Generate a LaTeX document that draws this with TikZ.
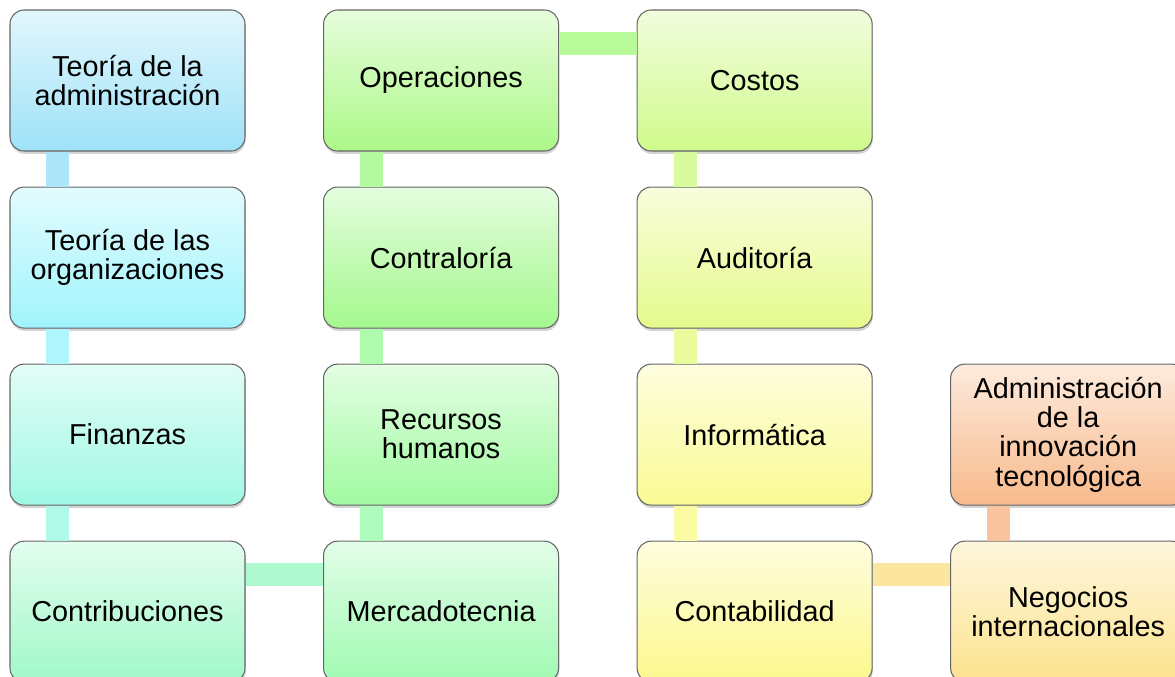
\documentclass[tikz,border=0pt]{standalone}
\usepackage{fontspec}
\setmainfont{Liberation Sans}
\usetikzlibrary{positioning,shadows}

\definecolor{cadm}{RGB}{158,226,248}
\definecolor{corg}{RGB}{160,244,252}
\definecolor{cfin}{RGB}{160,248,228}
\definecolor{ccon}{RGB}{160,248,200}
\definecolor{cmer}{RGB}{160,250,178}
\definecolor{crrh}{RGB}{160,250,160}
\definecolor{cctl}{RGB}{164,248,142}
\definecolor{cope}{RGB}{172,248,136}
\definecolor{ccos}{RGB}{208,250,140}
\definecolor{caud}{RGB}{230,250,140}
\definecolor{cinf}{RGB}{250,250,148}
\definecolor{ccnt}{RGB}{252,248,142}
\definecolor{cneg}{RGB}{252,226,142}
\definecolor{cinn}{RGB}{248,186,140}

\begin{document}
\begin{tikzpicture}[x=0.2mm,y=-0.2mm,
  box/.style={draw=black!60, line width=0.6pt, rounded corners=0.28cm, minimum width=4.7cm, minimum height=2.82cm, align=center, font=\fontsize{16.4}{16.6}\selectfont, top color=#1!30, bottom color=#1, drop shadow={shadow xshift=0.4pt, shadow yshift=-1.6pt, opacity=0.35}},
  link/.style={line width=0.46cm, draw=#1!85}]
\useasboundingbox (0,0) rectangle (1175,676);
\node[box=cadm] (teoadm) at (127.5,80.5) {Teoría de la\\administración};
\node[box=corg, below=0.7cm of teoadm] (teoorg) {Teoría de las\\organizaciones};
\node[box=cfin, below=0.7cm of teoorg] (finanzas) {Finanzas};
\node[box=ccon, below=0.7cm of finanzas] (contrib) {Contribuciones};
\node[box=cmer, right=1.55cm of contrib] (mercado) {Mercadotecnia};
\node[box=crrh, above=0.7cm of mercado] (rrhh) {Recursos\\humanos};
\node[box=cctl, above=0.7cm of rrhh] (contral) {Contraloría};
\node[box=cope, above=0.7cm of contral] (operac) {Operaciones};
\node[box=ccos, right=1.55cm of operac] (costos) {Costos};
\node[box=caud, below=0.7cm of costos] (audit) {Auditoría};
\node[box=cinf, below=0.7cm of audit] (informat) {Informática};
\node[box=ccnt, below=0.7cm of informat] (contab) {Contabilidad};
\node[box=cneg, right=1.55cm of contab] (negocios) {Negocios\\internacionales};
\node[box=cinn, above=0.7cm of negocios] (innov) {Administración\\de la\\innovación\\tecnológica};
% bars joining the boxes
\draw[link=cadm] ([xshift=0.97cm]teoadm.south west) -- ([xshift=0.97cm]teoorg.north west);
\draw[link=corg] ([xshift=0.97cm]teoorg.south west) -- ([xshift=0.97cm]finanzas.north west);
\draw[link=cfin] ([xshift=0.97cm]finanzas.south west) -- ([xshift=0.97cm]contrib.north west);
\draw[link=ccon] ([yshift=-0.68cm]contrib.north east) -- ([yshift=-0.68cm]mercado.north west);
\draw[link=cmer] ([xshift=0.97cm]mercado.north west) -- ([xshift=0.97cm]rrhh.south west);
\draw[link=crrh] ([xshift=0.97cm]rrhh.north west) -- ([xshift=0.97cm]contral.south west);
\draw[link=cctl] ([xshift=0.97cm]contral.north west) -- ([xshift=0.97cm]operac.south west);
\draw[link=cope] ([yshift=-0.68cm]operac.north east) -- ([yshift=-0.68cm]costos.north west);
\draw[link=ccos] ([xshift=0.97cm]costos.south west) -- ([xshift=0.97cm]audit.north west);
\draw[link=caud] ([xshift=0.97cm]audit.south west) -- ([xshift=0.97cm]informat.north west);
\draw[link=cinf] ([xshift=0.97cm]informat.south west) -- ([xshift=0.97cm]contab.north west);
\draw[link=cneg] ([yshift=-0.68cm]contab.north east) -- ([yshift=-0.68cm]negocios.north west);
\draw[link=cinn] ([xshift=0.97cm]negocios.north west) -- ([xshift=0.97cm]innov.south west);
\end{tikzpicture}
\end{document}
